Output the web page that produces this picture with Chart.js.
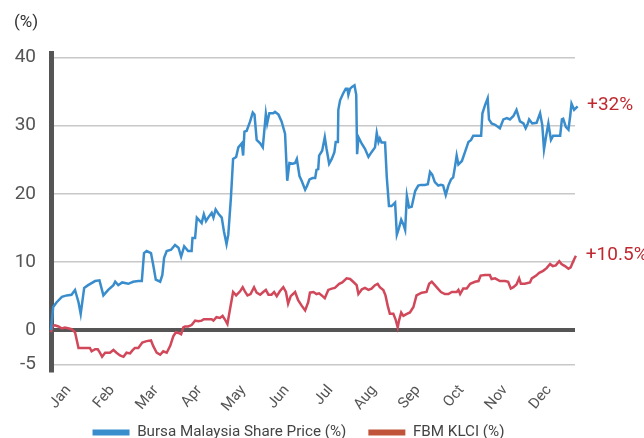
<!DOCTYPE html>
<html>
<head>
<meta charset="utf-8">
<script src="https://cdn.jsdelivr.net/npm/chart.js@4.4.1/dist/chart.umd.min.js"></script>
<style>
    html, body { margin: 0; padding: 0; background: #fff; }
</style>
</head>
<body>
<canvas id="perf-chart" width="644" height="438"></canvas>
<script>
// x values are month positions (0 = start of Jan, 12 = end of Dec)
const months = ['Jan', 'Feb', 'Mar', 'Apr', 'May', 'Jun', 'Jul', 'Aug', 'Sep', 'Oct', 'Nov', 'Dec'];
const yTicks = [-5, 0, 10, 20, 30, 40];

const bursaMonth = [0.00, 0.05, 0.13, 0.25, 0.36, 0.47, 0.55, 0.63, 0.68, 0.76, 0.85, 1.01, 1.11, 1.20, 1.31, 1.43, 1.47, 1.54, 1.63, 1.77,
    1.88, 2.00, 2.08, 2.13, 2.19, 2.29, 2.34, 2.40, 2.50, 2.55, 2.59, 2.65, 2.75, 2.84, 2.92, 2.98, 3.05, 3.14, 3.22, 3.24,
    3.30, 3.34, 3.41, 3.45, 3.50, 3.55, 3.60, 3.68, 3.72, 3.77, 3.83, 3.91, 3.96, 4.02, 4.06, 4.12, 4.17, 4.24, 4.29, 4.37,
    4.40, 4.43, 4.48, 4.56, 4.62, 4.66, 4.71, 4.79, 4.85, 4.90, 4.92, 4.95, 5.00, 5.09, 5.13, 5.21, 5.28, 5.36, 5.41, 5.46,
    5.54, 5.59, 5.63, 5.69, 5.74, 5.82, 5.86, 5.92, 5.99, 6.05, 6.08, 6.12, 6.14, 6.21, 6.27, 6.31, 6.37, 6.43, 6.49, 6.52,
    6.57, 6.58, 6.62, 6.69, 6.75, 6.79, 6.81, 6.85, 6.90, 6.95, 6.99, 7.01, 7.04, 7.12, 7.19, 7.27, 7.34, 7.42, 7.46, 7.50,
    7.53, 7.57, 7.65, 7.69, 7.74, 7.80, 7.88, 7.92, 7.97, 8.02, 8.07, 8.11, 8.15, 8.20, 8.26, 8.34, 8.41, 8.47, 8.56, 8.63,
    8.68, 8.73, 8.79, 8.87, 8.93, 8.98, 9.04, 9.10, 9.16, 9.21, 9.25, 9.29, 9.33, 9.41, 9.48, 9.56, 9.62, 9.67, 9.79, 9.85,
    9.88, 9.94, 10.00, 10.03, 10.09, 10.17, 10.28, 10.36, 10.44, 10.51, 10.59, 10.66, 10.74, 10.82, 10.87, 10.92, 10.95, 11.02, 11.12, 11.20,
    11.25, 11.29, 11.34, 11.39, 11.45, 11.50, 11.58, 11.66, 11.70, 11.73, 11.79, 11.85, 11.89, 11.92, 11.98, 12.06, 12.14];
const bursaPct = [0.0, 3.4, 4.1, 4.9, 5.1, 5.2, 5.9, 4.1, 2.4, 6.2, 6.6, 7.2, 7.3, 5.1, 5.9, 6.6, 7.1, 6.6, 7.0, 6.8,
    7.1, 7.2, 7.2, 11.3, 11.6, 11.3, 9.6, 7.4, 7.1, 8.1, 10.6, 11.6, 11.8, 12.5, 12.1, 10.8, 12.3, 11.6, 11.6, 13.5,
    13.5, 16.5, 16.0, 15.7, 17.0, 16.0, 16.5, 17.2, 16.5, 17.7, 17.1, 16.5, 14.5, 12.6, 14.0, 19.4, 25.1, 25.4, 26.8, 27.4,
    25.6, 29.1, 29.2, 30.6, 31.9, 31.6, 27.9, 27.4, 26.8, 30.3, 31.7, 30.3, 31.8, 31.8, 32.0, 31.6, 30.6, 28.8, 21.9, 24.5,
    24.4, 24.5, 25.1, 22.6, 21.9, 20.6, 21.1, 22.1, 22.3, 22.3, 23.5, 23.6, 25.6, 26.3, 28.3, 26.6, 24.4, 25.1, 26.1, 27.6,
    27.6, 32.3, 33.7, 34.7, 35.4, 35.4, 34.5, 35.4, 35.7, 35.9, 34.5, 25.8, 28.3, 27.3, 26.6, 25.4, 26.1, 26.8, 28.9, 27.6,
    28.1, 27.5, 27.5, 22.4, 18.2, 18.2, 18.7, 14.0, 15.0, 16.2, 15.5, 14.7, 19.7, 18.0, 18.1, 20.4, 21.2, 21.3, 21.3, 21.4,
    23.2, 22.8, 21.7, 21.2, 21.3, 21.2, 19.8, 21.2, 22.1, 22.4, 23.9, 25.6, 24.3, 24.8, 26.1, 27.6, 27.9, 28.5, 28.5, 28.5,
    31.8, 33.0, 34.0, 30.9, 30.3, 30.1, 29.6, 30.9, 31.1, 30.9, 31.4, 32.3, 30.6, 30.3, 29.6, 30.3, 30.9, 30.3, 30.4, 31.8,
    30.1, 26.5, 28.5, 30.3, 27.9, 28.5, 28.5, 28.5, 30.9, 31.0, 29.8, 29.4, 31.4, 33.2, 32.3, 32.8, 33.2];

const klciMonth = [0.00, 0.03, 0.09, 0.17, 0.25, 0.32, 0.41, 0.47, 0.55, 0.63, 0.70, 0.82, 0.89, 0.93, 1.01, 1.07, 1.12, 1.17, 1.24, 1.35,
    1.43, 1.50, 1.58, 1.66, 1.73, 1.81, 1.86, 1.92, 2.00, 2.09, 2.19, 2.29, 2.34, 2.42, 2.50, 2.57, 2.65, 2.73, 2.80, 2.86,
    2.92, 2.98, 3.03, 3.07, 3.14, 3.22, 3.30, 3.37, 3.45, 3.50, 3.60, 3.68, 3.72, 3.79, 3.87, 3.93, 3.98, 4.04, 4.10, 4.17,
    4.24, 4.33, 4.39, 4.44, 4.50, 4.57, 4.65, 4.71, 4.79, 4.86, 4.92, 4.98, 5.05, 5.11, 5.17, 5.24, 5.32, 5.38, 5.43, 5.49,
    5.59, 5.66, 5.74, 5.82, 5.89, 5.93, 6.01, 6.08, 6.14, 6.20, 6.27, 6.35, 6.43, 6.50, 6.60, 6.67, 6.77, 6.85, 6.92, 7.00,
    7.04, 7.12, 7.19, 7.27, 7.34, 7.42, 7.48, 7.53, 7.61, 7.66, 7.71, 7.76, 7.84, 7.89, 7.94, 7.97, 8.02, 8.07, 8.15, 8.22,
    8.30, 8.37, 8.49, 8.60, 8.66, 8.72, 8.79, 8.86, 8.93, 9.02, 9.10, 9.18, 9.29, 9.33, 9.37, 9.44, 9.52, 9.60, 9.71, 9.79,
    9.84, 9.94, 10.05, 10.09, 10.17, 10.28, 10.40, 10.47, 10.53, 10.59, 10.66, 10.72, 10.76, 10.85, 10.97, 11.01, 11.11, 11.18, 11.27, 11.35,
    11.43, 11.49, 11.56, 11.64, 11.69, 11.77, 11.85, 11.90, 11.96, 12.02, 12.11];
const klciPct = [-0.3, 0.6, 0.7, 0.55, 0.25, 0.4, 0.25, 0.15, -0.3, -2.6, -2.6, -2.6, -2.6, -3.1, -2.8, -2.8, -3.3, -3.9, -3.3, -3.3,
    -2.9, -3.3, -3.7, -3.9, -3.3, -3.4, -3.0, -2.6, -2.6, -1.8, -1.6, -1.5, -2.3, -3.3, -3.6, -3.1, -3.3, -2.3, -0.9, -0.3,
    -0.4, -0.6, 0.4, 0.55, 0.55, 0.75, 1.4, 1.3, 1.4, 1.6, 1.6, 1.6, 1.4, 1.9, 1.8, 2.1, 1.6, 0.9, 3.1, 5.6,
    5.1, 5.7, 6.3, 5.7, 5.1, 5.3, 6.3, 5.5, 5.2, 5.6, 5.9, 5.2, 5.2, 5.6, 5.0, 5.7, 6.3, 5.6, 3.9, 5.0,
    5.6, 4.4, 3.6, 2.9, 4.1, 5.5, 5.6, 5.3, 5.4, 5.1, 4.7, 5.9, 6.1, 6.2, 6.8, 7.0, 7.6, 7.5, 7.1, 6.6,
    5.3, 6.0, 6.2, 5.9, 6.1, 6.6, 6.8, 6.3, 5.9, 5.1, 3.6, 2.4, 2.4, 1.6, 0.4, 1.4, 2.6, 2.1, 2.4, 2.6,
    3.4, 5.1, 5.5, 5.6, 6.8, 7.1, 6.6, 6.1, 5.6, 5.3, 5.3, 5.6, 5.6, 5.9, 5.3, 6.1, 6.1, 6.8, 7.1, 7.2,
    8.0, 8.1, 8.1, 7.5, 7.6, 7.2, 7.2, 7.1, 6.1, 6.3, 6.7, 7.6, 6.8, 6.8, 7.0, 7.6, 8.0, 8.4, 8.7, 9.1,
    9.7, 9.4, 9.5, 10.1, 9.7, 9.4, 9.0, 9.2, 10.1, 10.9, 11.3];

const endLabels = ['+32%', '+10.5%'];

const FONT = 'Roboto, "Liberation Sans", Arial, sans-serif';
const legendColors = ['#3a8dcc', '#c0543a'];

const toPoints = (xs, ys) => xs.map((x, i) => ({ x, y: ys[i] }));

// scales clip their own labels to their box; widen the boxes so the
// rotated month labels and the y tick labels are not cut off
const unclipLabels = {
    id: 'unclipLabels',
    afterLayout(chart) {
        chart.scales.x.bottom = chart.height;
        chart.scales.y.left = 0;
    }
};

// "(%)" unit label and the end-of-line values
const annotations = {
    id: 'annotations',
    afterDatasetsDraw(chart) {
        const { ctx } = chart;
        ctx.save();
        ctx.font = `17px ${FONT}`;
        ctx.fillStyle = '#333';
        ctx.textBaseline = 'middle';
        ctx.textAlign = 'left';
        ctx.fillText('(%)', 14, 23);

        ctx.font = `19px ${FONT}`;
        ctx.fillStyle = '#c0282f';
        chart.data.datasets.forEach((ds, i) => {
            const pts = chart.getDatasetMeta(i).data;
            const last = pts[pts.length - 1];
            ctx.fillText(endLabels[i], last.x + 6, last.y + 2);
        });
        ctx.restore();
    }
};

new Chart(document.getElementById('perf-chart'), {
    type: 'line',
    data: {
        datasets: [{
            label: 'Bursa Malaysia Share Price (%)',
            data: toPoints(bursaMonth, bursaPct),
            borderColor: '#3a8dcc',
            backgroundColor: '#3a8dcc',
            borderWidth: 2.5,
            pointRadius: 0,
            clip: false
        }, {
            label: 'FBM KLCI (%)',
            data: toPoints(klciMonth, klciPct),
            borderColor: '#d0485a',
            backgroundColor: '#d0485a',
            borderWidth: 2.5,
            pointRadius: 0,
            clip: false
        }]
    },
    options: {
        responsive: false,
        animation: false,
        layout: { padding: { top: 53.5, right: 69, left: 22, bottom: -12 } },
        scales: {
            x: {
                type: 'linear',
                min: 0,
                max: 12,
                grid: { display: false },
                border: { display: false },
                afterBuildTicks: s => { s.ticks = months.map((m, i) => ({ value: i + 0.4 })); },
                afterFit: s => { s.height = 31; },
                ticks: {
                    autoSkip: false,
                    minRotation: 50,
                    maxRotation: 50,
                    padding: 2,
                    color: '#555',
                    font: { family: FONT, size: 15 },
                    callback: (v, i) => months[i]
                }
            },
            y: {
                min: -6.1,
                max: 40.56,
                afterBuildTicks: s => { s.ticks = yTicks.map(v => ({ value: v })); },
                afterFit: s => { s.width = 29; },
                border: { color: '#555', width: 5 },
                grid: {
                    drawTicks: false,
                    color: c => (c.tick && c.tick.value === 0 ? '#555' : '#c8c8c8'),
                    lineWidth: c => (c.tick && c.tick.value === 0 ? 4 : 1.5)
                },
                ticks: {
                    padding: 15,
                    color: '#555',
                    font: { family: FONT, size: 19 }
                }
            }
        },
        plugins: {
            tooltip: { enabled: false },
            legend: {
                position: 'bottom',
                labels: {
                    boxWidth: 37,
                    boxHeight: 6,
                    useBorderRadius: true,
                    borderRadius: 3,
                    padding: 22,
                    color: '#444',
                    font: { family: FONT, size: 15.2 },
                    generateLabels: chart => chart.data.datasets.map((ds, i) => ({
                        text: ds.label,
                        fillStyle: legendColors[i],
                        strokeStyle: legendColors[i],
                        lineWidth: 0,
                        fontColor: '#444',
                        datasetIndex: i
                    }))
                }
            }
        }
    },
    plugins: [unclipLabels, annotations]
});
</script>
</body>
</html>
